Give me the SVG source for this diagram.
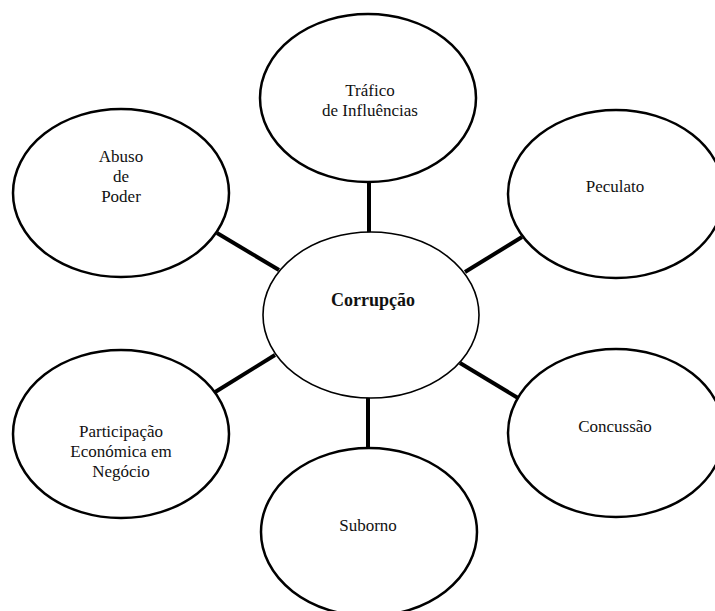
<svg xmlns="http://www.w3.org/2000/svg" width="715" height="611" viewBox="0 0 715 611">
<style>
.n{fill:#fff;stroke:#000;stroke-width:2.5}
.c{fill:#fff;stroke:#000;stroke-width:1.6}
.t{font-family:"Liberation Serif",serif;font-size:17px;fill:#111;text-anchor:middle}
.b{font-weight:bold;font-size:18px}
.e{stroke:#000;stroke-width:4;fill:none}
</style>
<rect width="715" height="611" fill="#fff"/>
<g id="connectors">
<line class="e" x1="369" y1="182" x2="369" y2="233"/>
<line class="e" x1="368" y1="396" x2="368" y2="449"/>
<line class="e" x1="217" y1="233" x2="279" y2="270"/>
<line class="e" x1="522" y1="237" x2="465" y2="272"/>
<line class="e" x1="212" y1="394" x2="275" y2="355"/>
<line class="e" x1="460" y1="363" x2="518" y2="398"/>
</g>
<g id="trafico">
<ellipse class="n" cx="368" cy="98" rx="108" ry="84"/>
<text class="t" x="370" y="96">Tráfico</text>
<text class="t" x="370" y="116">de Influências</text>
</g>
<g id="abuso">
<ellipse class="n" cx="121" cy="193" rx="108" ry="84"/>
<text class="t" x="121" y="162">Abuso</text>
<text class="t" x="121" y="182">de</text>
<text class="t" x="121" y="202">Poder</text>
</g>
<g id="peculato">
<ellipse class="n" cx="616" cy="194" rx="108" ry="84"/>
<text class="t" x="615" y="192">Peculato</text>
</g>
<g id="participacao">
<ellipse class="n" cx="121" cy="434" rx="108" ry="84"/>
<text class="t" x="121" y="437">Participação</text>
<text class="t" x="121" y="457">Económica em</text>
<text class="t" x="121" y="477">Negócio</text>
</g>
<g id="concussao">
<ellipse class="n" cx="616" cy="433" rx="108" ry="84"/>
<text class="t" x="615" y="432">Concussão</text>
</g>
<g id="suborno">
<ellipse class="n" cx="369" cy="532" rx="108" ry="84"/>
<text class="t" x="368" y="531">Suborno</text>
</g>
<g id="corrupcao">
<ellipse class="c" cx="371" cy="315" rx="108" ry="83"/>
<text class="t b" x="373" y="306">Corrupção</text>
</g>
</svg>
